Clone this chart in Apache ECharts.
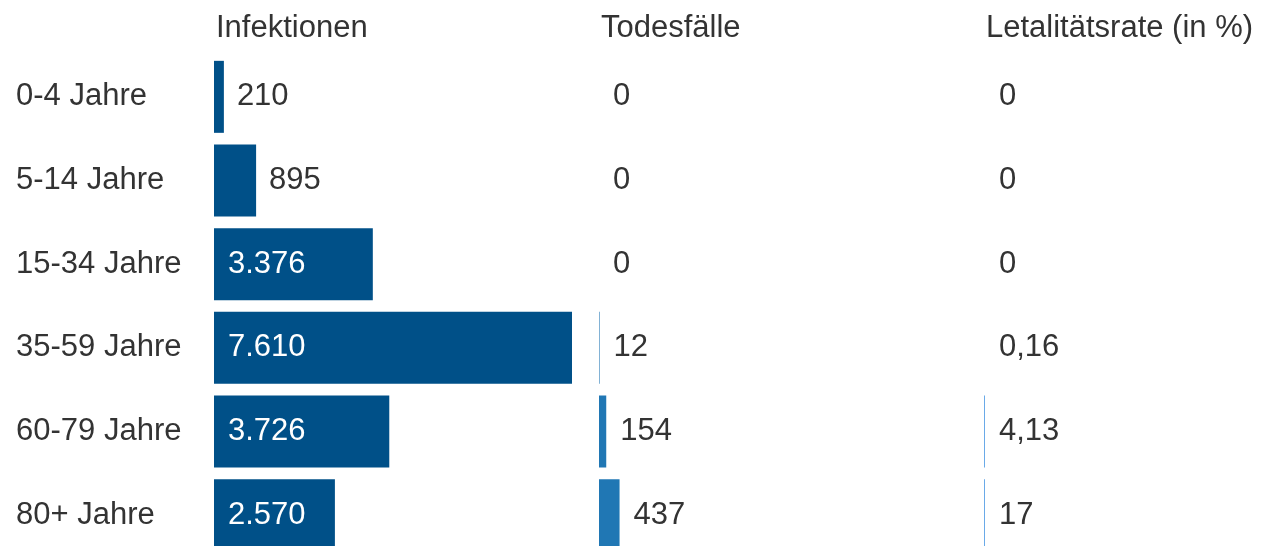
<!DOCTYPE html>
<html>
<head>
<meta charset="utf-8">
<script src="https://cdn.jsdelivr.net/npm/echarts@6/dist/echarts.min.js"></script>
<style>html,body{margin:0;padding:0;background:#fff}#c{width:1266px;height:546px}</style>
</head>
<body>
<div id="c"></div>
<script>
const categories = ['0-4 Jahre', '5-14 Jahre', '15-34 Jahre', '35-59 Jahre', '60-79 Jahre', '80+ Jahre'];
const columnTitles = ['Infektionen', 'Todesfälle', 'Letalitätsrate (in %)'];
const infektionen = [210, 895, 3376, 7610, 3726, 2570];
const todesfaelle = [0, 0, 0, 12, 154, 437];
const letalitaet = [0, 0, 0, 0.16, 4.13, 17];

function fmtDE(v) {
  const parts = String(v).split('.');
  parts[0] = parts[0].replace(/\B(?=(\d{3})+(?!\d))/g, '.');
  return parts.join(',');
}

const FONT = 'Liberation Sans, Arial, sans-serif';
const FS = 31;
const TEXT = '#333333';
const lefts = [214, 599, 984];
const W = 358;
const MAXV = 7610;

const outsideLabel = { show: true, position: 'right', distance: 13, color: TEXT, fontSize: FS, fontFamily: FONT, formatter: p => fmtDE(p.value) };
const insideLabel = { show: true, position: 'insideLeft', distance: 14, color: '#ffffff', fontSize: FS, fontFamily: FONT, formatter: p => fmtDE(p.value) };

const grids = lefts.map(l => ({ left: l, width: W, top: 55, height: 502, containLabel: false, outerBoundsMode: 'none' }));
const xAxes = lefts.map((l, i) => ({ gridIndex: i, type: 'value', min: 0, max: MAXV, show: false }));
const yAxes = lefts.map((l, i) => ({
  gridIndex: i, type: 'category', data: categories, inverse: true,
  axisLine: { show: false }, axisTick: { show: false }, splitLine: { show: false },
  axisLabel: i === 0 ? { show: true, align: 'left', margin: 198, color: TEXT, fontSize: FS, fontFamily: FONT } : { show: false }
}));

const option = {
  animation: false,
  backgroundColor: '#ffffff',
  title: columnTitles.map((t, i) => ({
    text: t, left: lefts[i] - 3, top: 8,
    textStyle: { color: TEXT, fontSize: FS, fontWeight: 'normal', fontFamily: FONT }
  })),
  grid: grids,
  xAxis: xAxes,
  yAxis: yAxes,
  series: [
    {
      type: 'bar', xAxisIndex: 0, yAxisIndex: 0, barWidth: 72,
      itemStyle: { color: '#005088' },
      data: infektionen.map(v => ({ value: v, label: v >= 2000 ? insideLabel : outsideLabel }))
    },
    {
      type: 'bar', xAxisIndex: 1, yAxisIndex: 1, barWidth: 72,
      itemStyle: { color: '#2077b4' },
      label: Object.assign({}, outsideLabel, { distance: 14 }),
      data: todesfaelle
    },
    {
      type: 'bar', xAxisIndex: 2, yAxisIndex: 2, barWidth: 72, barMinHeight: 1,
      itemStyle: { color: '#6aaae8' },
      label: Object.assign({}, outsideLabel, { distance: 14 }),
      data: letalitaet.map(v => ({ value: v, itemStyle: { color: v >= 1 ? '#6aaae8' : 'rgba(0,0,0,0)' } }))
    }
  ]
};

const chart = echarts.init(document.getElementById('c'), null, { renderer: 'canvas' });
chart.setOption(option);
</script>
</body>
</html>
